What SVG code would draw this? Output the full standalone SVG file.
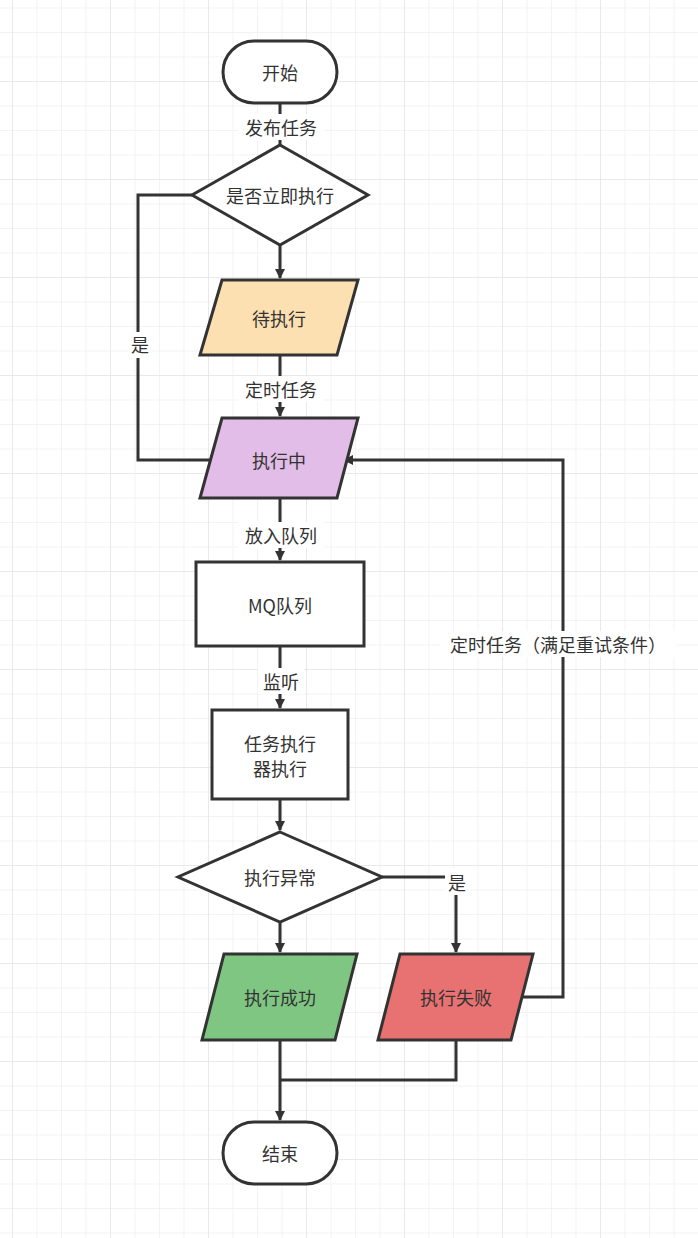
<svg xmlns="http://www.w3.org/2000/svg" width="698" height="1238" viewBox="0 0 698 1238">
<defs>
<pattern id="g" x="12" y="7.5" width="24.5" height="24.5" patternUnits="userSpaceOnUse"><path d="M0 0V24.5M0 0H24.5" stroke="#efefef" stroke-width="1.5" fill="none"/></pattern>
<pattern id="G" x="12" y="81" width="98" height="98" patternUnits="userSpaceOnUse"><path d="M0 0V98M0 0H98" stroke="#e6e6e6" stroke-width="1.5" fill="none"/></pattern>
<marker id="a" markerWidth="10" markerHeight="10" refX="9" refY="5" orient="auto" markerUnits="userSpaceOnUse" viewBox="0 0 10 10"><path d="M0 0L10 5L0 10z" fill="#333"/></marker>
</defs>
<style>
.s{stroke:#333;stroke-width:3;fill:#fff}
.l{stroke:#333;stroke-width:3;fill:none}
text{font-family:"Noto Sans CJK SC","Liberation Sans",sans-serif;font-size:18px;fill:#333;text-anchor:middle;dominant-baseline:central}
.bg{fill:#fff}
</style>
<rect width="698" height="1238" fill="#fff"/>
<rect width="698" height="1238" fill="url(#g)"/>
<rect width="698" height="1238" fill="url(#G)"/>
<g id="connectors">
<path class="l" d="M280 103V145"/>
<path class="l" d="M280 245V278" marker-end="url(#a)"/>
<path class="l" d="M192 195H138V460H219" marker-end="url(#a)"/>
<path class="l" d="M280 355V416" marker-end="url(#a)"/>
<path class="l" d="M280 498V560" marker-end="url(#a)"/>
<path class="l" d="M280 646V708" marker-end="url(#a)"/>
<path class="l" d="M280 799V830" marker-end="url(#a)"/>
<path class="l" d="M280 922V952" marker-end="url(#a)"/>
<path class="l" d="M382 877H456V952" marker-end="url(#a)"/>
<path class="l" d="M522 997H563V460H344" marker-end="url(#a)"/>
<path class="l" d="M280 1040V1120" marker-end="url(#a)"/>
<path class="l" d="M456 1040V1080H280"/>
<rect class="bg" x="238" y="114" width="86" height="26"/><text x="281" y="127">发布任务</text>
<rect class="bg" x="128" y="332" width="24" height="26"/><text x="140" y="344">是</text>
<rect class="bg" x="238" y="376" width="86" height="26"/><text x="281" y="389">定时任务</text>
<rect class="bg" x="238" y="522" width="86" height="26"/><text x="281" y="535">放入队列</text>
<rect class="bg" x="258" y="668" width="46" height="26"/><text x="281" y="681">监听</text>
<rect class="bg" x="445" y="869" width="24" height="26"/><text x="457" y="882">是</text>
<rect class="bg" x="440" y="631" width="236" height="26"/><text x="558" y="644">定时任务（满足重试条件）</text>
</g>
<g id="start"><rect class="s" x="223" y="41" width="114" height="62" rx="31"/><text x="280" y="72">开始</text></g>
<g id="d1"><path class="s" d="M280 145L368 195L280 245L192 195z"/><text x="280" y="195">是否立即执行</text></g>
<g id="wait"><path class="s" d="M222 280H358L337 355H200z" fill="#fde0b1" style="fill:#fde0b1"/><text x="279" y="318">待执行</text></g>
<g id="run"><path class="s" d="M222 418H358L337 498H200z" style="fill:#e1bde7"/><text x="279" y="460">执行中</text></g>
<g id="mq"><rect class="s" x="196" y="562" width="168" height="84"/><text x="280" y="605">MQ队列</text></g>
<g id="exec"><rect class="s" x="212" y="710" width="136" height="89"/><text x="280" y="743">任务执行</text><text x="280" y="768">器执行</text></g>
<g id="d2"><path class="s" d="M280 832L382 877L280 922L178 877z"/><text x="280" y="877">执行异常</text></g>
<g id="ok"><path class="s" d="M224 954H357L335 1040H202z" style="fill:#7fc683"/><text x="280" y="997">执行成功</text></g>
<g id="fail"><path class="s" d="M400 954H533L511 1040H378z" style="fill:#e87171"/><text x="456" y="997">执行失败</text></g>
<g id="end"><rect class="s" x="223" y="1122" width="114" height="62" rx="31"/><text x="280" y="1153">结束</text></g>
</svg>
